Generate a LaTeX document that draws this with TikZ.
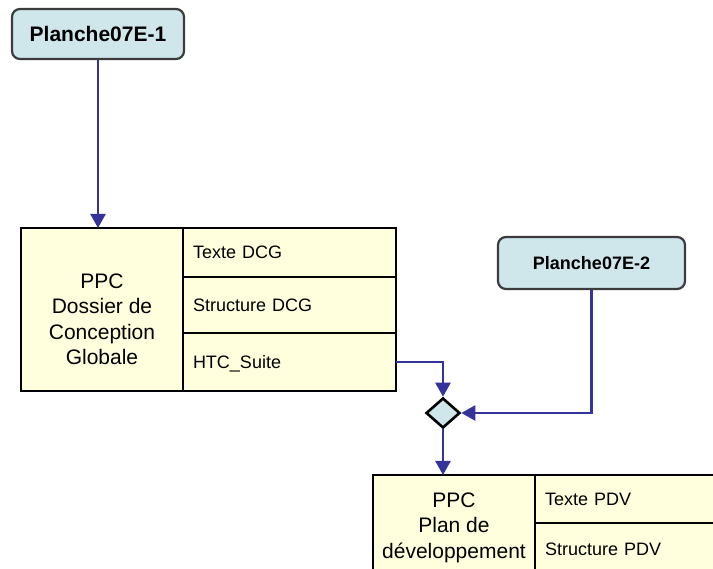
\documentclass[tikz,border=0pt]{standalone}
\usepackage{fontspec}
\setmainfont{Liberation Sans}
\usetikzlibrary{shapes.geometric,arrows.meta}
\definecolor{cellfill}{RGB}{255,255,221}
\definecolor{tagfill}{RGB}{207,231,235}
\definecolor{wirecol}{RGB}{51,51,153}
\definecolor{tagline}{RGB}{60,60,60}
\begin{document}
\begin{tikzpicture}[x=1pt,y=-1pt,
  cell/.style={draw=black,line width=2.6pt,fill=cellfill,inner sep=0pt,outer sep=0pt},
  rowcell/.style={cell,align=left,font=\fontsize{18}{22}\selectfont,text height=13pt,text depth=0pt},
  tag/.style={draw=tagline,line width=2.2pt,fill=tagfill,rounded corners=8pt,inner sep=0pt},
  big/.style={font=\fontsize{21}{25.5}\selectfont,align=center,inner sep=0pt},
  wire/.style={draw=wirecol,line width=2.4pt,-{Triangle[length=14pt,width=15pt]}}]
\clip (0,0) rectangle (713,569);
\fill[white] (0,0) rectangle (713,569);
% top tag
\node[tag,minimum width=172pt,minimum height=50pt,font=\fontsize{21}{25}\selectfont\bfseries] (P1) at (98,34) {Planche07E-1};
% DCG box
\node[cell,minimum width=162pt,minimum height=163pt] (dcgL) at (102,309.5) {};
\node[big] (dcgT) at (102,319.5) {PPC\\Dossier de\\Conception\\Globale};
\node[rowcell,minimum width=213pt,minimum height=49pt,text width=193pt] (dcgA) at (289.5,252.5) {Texte DCG};
\node[rowcell,minimum width=213pt,minimum height=56pt,text width=193pt] (dcgB) at (289.5,305) {Structure DCG};
\node[rowcell,minimum width=213pt,minimum height=58pt,text width=193pt] (dcgC) at (289.5,362) {HTC\_Suite};
% second tag
\node[tag,minimum width=187pt,minimum height=52pt,font=\fontsize{18}{22}\selectfont\bfseries] (P2) at (591.5,263) {Planche07E-2};
% diamond
\node[diamond,draw=black,line width=2.6pt,fill=tagfill,minimum width=34pt,minimum height=30pt,aspect=1.13,inner sep=0pt] (dia) at (443,413) {};
% PDV box
\node[cell,minimum width=162pt,minimum height=100pt] (pdvL) at (454,525) {};
\node[big] (pdvT) at (454,527.5) {PPC\\Plan de\\développement};
\node[rowcell,minimum width=230pt,minimum height=48pt,text width=210pt] (pdvA) at (650,499) {Texte PDV};
\node[rowcell,minimum width=230pt,minimum height=52pt,text width=210pt] (pdvB) at (650,549) {Structure PDV};
% connectors
\draw[wire] (P1.south) -- (P1.south |- dcgL.north);
\draw[wire] (dcgC.east) -| (dia.north);
\draw[wire] (P2.south) |- (dia.east);
\draw[wire] (dia.south) -- (dia.south |- pdvL.north);
\end{tikzpicture}
\end{document}
